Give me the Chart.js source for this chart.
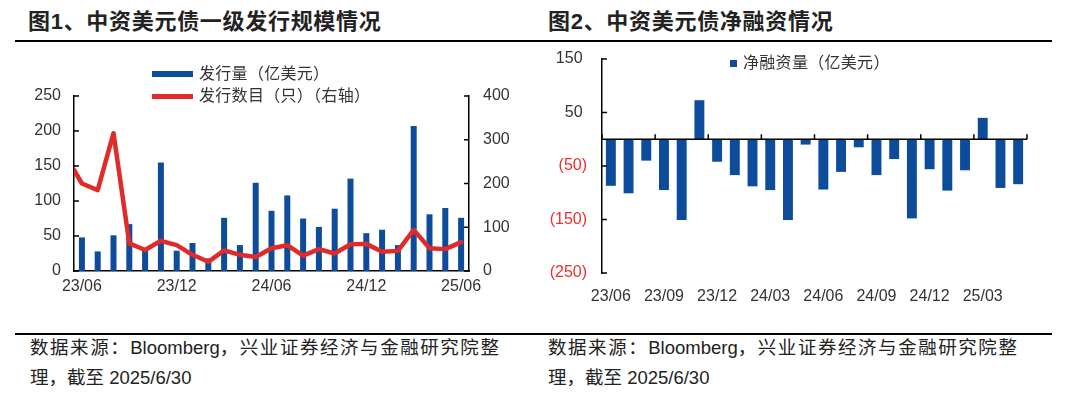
<!DOCTYPE html>
<html>
<head>
<meta charset="utf-8">
<script src="https://cdn.jsdelivr.net/npm/chart.js@4.4.1/dist/chart.umd.min.js"></script>
<style>
  body { margin: 0; width: 1080px; height: 393px; background: #fff; position: relative; overflow: hidden;
         font-family: "Liberation Sans", "Noto Sans CJK SC", sans-serif; color: #222; }
  .title { position: absolute; top: 9px; font-size: 22px; line-height: 26px; font-weight: bold; letter-spacing: 0.7px; color: #222; }
  .rule { position: absolute; left: 15px; width: 1037px; height: 1.5px; background: #000; }
  .note { position: absolute; font-size: 18.5px; line-height: 30px; color: #222; white-space: nowrap; }
  .note span { letter-spacing: 0; }
  .box { position: absolute; top: 0; }
  .leg { position: absolute; font-size: 16px; line-height: 20px; color: #333; white-space: nowrap; letter-spacing: 0.3px; }
  .leg i { position: absolute; display: block; }
</style>
</head>
<body>
<div class="title" style="left:28px">图1、中资美元债一级发行规模情况</div>
<div class="title" style="left:548px">图2、中资美元债净融资情况</div>
<div class="rule" style="top:40px"></div>
<div class="rule" style="top:333px"></div>

<div class="box" style="left:0;width:540px;height:310px"><canvas id="issue-chart"></canvas></div>
<div class="box" style="left:540px;width:540px;height:320px"><canvas id="net-chart"></canvas></div>

<!-- legends -->
<div class="leg" style="left:199px;top:64px"><i style="left:-47px;top:7px;width:41px;height:6px;background:#0d4c9a"></i>发行量（亿美元）</div>
<div class="leg" style="left:199px;top:86px"><i style="left:-47px;top:8px;width:41px;height:4.5px;background:#e02b2b"></i>发行数目（只）（右轴）</div>
<div class="leg" style="left:743px;top:53px"><i style="left:-13px;top:7px;width:7px;height:7px;background:#0d4c9a"></i>净融资量（亿美元）</div>

<div class="note" style="left:30px;top:333px;letter-spacing:1.55px">数据来源：<span>Bloomberg</span>，兴业证券经济与金融研究院整</div>
<div class="note" style="left:30px;top:363px">理，截至 2025/6/30</div>
<div class="note" style="left:548px;top:333px;letter-spacing:1.55px">数据来源：<span>Bloomberg</span>，兴业证券经济与金融研究院整</div>
<div class="note" style="left:548px;top:363px">理，截至 2025/6/30</div>

<script>
// months shown on the issuance chart
const months = ['23/06', '23/07', '23/08', '23/09', '23/10', '23/11', '23/12',
                '24/01', '24/02', '24/03', '24/04', '24/05', '24/06', '24/07', '24/08', '24/09', '24/10', '24/11', '24/12',
                '25/01', '25/02', '25/03', '25/04', '25/05', '25/06'];
// 发行量（亿美元）
const issueAmount = [48, 28, 51, 67, 30, 155, 29, 40, 18, 76, 37, 126, 86,
                     108, 75, 63, 89, 132, 54, 59, 37, 207, 81, 90, 76];
// 发行数目（只）, right axis
const issueCount = [200, 185, 315, 63, 48, 69, 59, 37, 21, 47, 37, 32, 52,
                    59, 35, 50, 40, 61, 62, 44, 46, 94, 52, 50, 66];
const issueCountStart = 231; // line starts at the axis edge

// net financing chart
const netMonths = months.slice(0, 24);
const netFinancing = [-87, -101, -40, -95, -151, 73, -42, -67, -88, -95, -151, -10,
                      -94, -61, -15, -67, -37, -148, -56, -96, -58, 40, -91, -84];

const leftTicks = [0, 50, 100, 150, 200, 250];
const rightTicks = [0, 100, 200, 300, 400];

const BLUE = '#0d4c9a';
const RED = '#e02b2b';

Chart.defaults.font.family = '"Liberation Sans", "Noto Sans CJK SC", sans-serif';
Chart.defaults.font.size = 16;
Chart.defaults.color = '#333';

// inward tick marks, zero line with ticks
const axisMarks = {
    id: 'axisMarks',
    afterDatasetsDraw(chart, args, opts) {
        const ctx = chart.ctx;
        const area = chart.chartArea;
        ctx.save();
        ctx.strokeStyle = '#000';
        ctx.lineWidth = 1.5;
        ctx.beginPath();
        (opts.yAxes || []).forEach(id => {
            const s = chart.scales[id];
            const x0 = s.position === 'left' ? area.left : area.right;
            const dir = s.position === 'left' ? 1 : -1;
            s.ticks.forEach(t => {
                const y = s.getPixelForValue(t.value);
                ctx.moveTo(x0, y);
                ctx.lineTo(x0 + dir * 5, y);
            });
        });
        if (opts.zeroEvery) {
            const xs = chart.scales.x;
            const y0 = chart.scales.y.getPixelForValue(0);
            ctx.moveTo(area.left, y0);
            ctx.lineTo(area.right, y0);
            const n = chart.data.labels.length;
            const band = xs.width / n;
            for (let i = 0; i <= n; i += opts.zeroEvery) {
                const x = xs.getPixelForValue(i) - band / 2;
                ctx.moveTo(x, y0);
                ctx.lineTo(x, y0 - 5);
            }
        }
        ctx.stroke();
        ctx.restore();
    }
};

// Chart 1: issuance amount + count
new Chart(document.getElementById('issue-chart'), {
    type: 'bar',
    data: {
        labels: months,
        datasets: [
            {
                label: '发行量（亿美元）',
                data: issueAmount,
                backgroundColor: BLUE,
                barPercentage: 0.38,
                categoryPercentage: 1,
                grouped: false,
                order: 1,
            },
            {
                type: 'line',
                label: '发行数目（只）（右轴）',
                data: [{ x: -0.5, y: issueCountStart }].concat(issueCount.map((v, i) => ({ x: i, y: v }))),
                xAxisID: 'x2',
                yAxisID: 'y1',
                borderColor: RED,
                borderWidth: 4.5,
                pointRadius: 0,
                tension: 0,
                borderJoinStyle: 'round',
                borderCapStyle: 'round',
                order: 0,
            },
        ],
    },
    options: {
        responsive: true,
        maintainAspectRatio: false,
        animation: false,
        layout: { padding: { top: 96, bottom: 0, left: 0, right: 0 } },
        plugins: {
            legend: { display: false },
            tooltip: { enabled: false },
            axisMarks: { yAxes: ['y', 'y1'] },
        },
        scales: {
            x: {
                offset: true,
                grid: { display: false, drawTicks: false },
                border: { display: true, color: '#000', width: 1.5 },
                ticks: {
                    autoSkip: false, maxRotation: 0, padding: 6,
                    callback: (v, i) => (i % 6 === 0 ? months[i] : ''),
                },
                afterFit: s => { s.height = 39; },
            },
            x2: {
                type: 'linear', display: false, offset: false,
                min: -0.5, max: months.length - 0.5,
                grid: { offset: false },
            },
            y: {
                position: 'left',
                min: 0, max: 250,
                afterBuildTicks: s => { s.ticks = leftTicks.map(v => ({ value: v })); },
                grid: { display: false, drawTicks: false },
                border: { display: true, color: '#000', width: 1.5 },
                ticks: { padding: 13 },
                afterFit: s => { s.width = 74; },
            },
            y1: {
                position: 'right',
                min: 0, max: 400,
                afterBuildTicks: s => { s.ticks = rightTicks.map(v => ({ value: v })); },
                grid: { display: false, drawTicks: false },
                border: { display: true, color: '#000', width: 1.5 },
                ticks: { padding: 14 },
                afterFit: s => { s.width = 71; },
            },
        },
    },
    plugins: [axisMarks],
});

// Chart 2: net financing
new Chart(document.getElementById('net-chart'), {
    type: 'bar',
    data: {
        labels: netMonths,
        datasets: [
            {
                label: '净融资量（亿美元）',
                data: netFinancing,
                backgroundColor: BLUE,
                barPercentage: 0.56,
                categoryPercentage: 1,
            },
        ],
    },
    options: {
        responsive: true,
        maintainAspectRatio: false,
        animation: false,
        layout: { padding: { top: 59, bottom: 0, left: 0, right: 53 } },
        plugins: {
            legend: { display: false },
            tooltip: { enabled: false },
            axisMarks: { yAxes: ['y'], zeroEvery: 3 },
        },
        scales: {
            x: {
                offset: true,
                grid: { display: false, drawTicks: false },
                border: { display: false },
                ticks: {
                    autoSkip: false, maxRotation: 0, padding: 14,
                    callback: (v, i) => (i % 3 === 0 ? netMonths[i] : ''),
                },
                afterFit: s => { s.height = 47; },
            },
            y: {
                min: -250, max: 150,
                ticks: {
                    stepSize: 100, padding: 15,
                    color: ctx => (ctx.tick.value < 0 ? '#e8302f' : '#333'),
                    callback: v => (v < 0 ? '(' + Math.abs(v) + ')' : v + ' '),
                },
                grid: { display: false, drawTicks: false },
                border: { display: true, color: '#000', width: 1.5 },
                afterFit: s => { s.width = 62; },
            },
        },
    },
    plugins: [axisMarks],
});
</script>
</body>
</html>
